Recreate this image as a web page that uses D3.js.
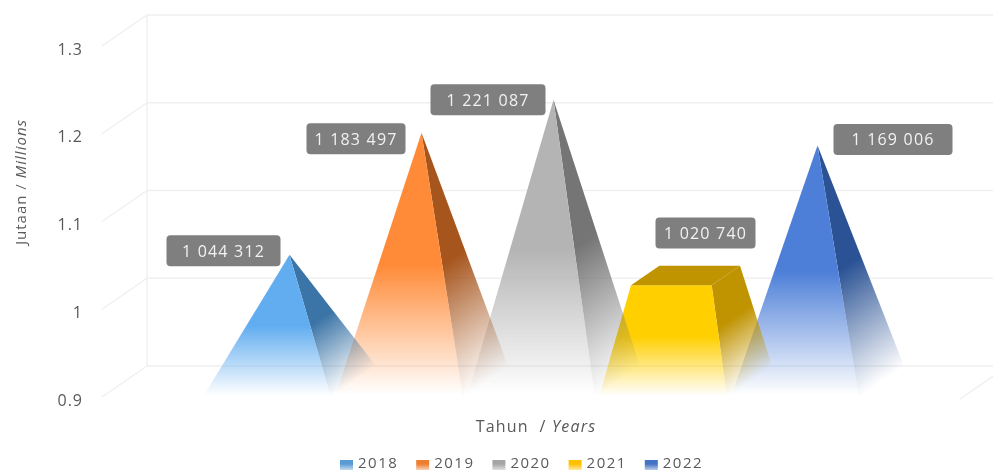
<!DOCTYPE html>
<html><head><meta charset="utf-8">
<script src="https://cdn.jsdelivr.net/npm/d3@7/dist/d3.min.js"></script>
<style>html,body{margin:0;padding:0;background:#fff;overflow:hidden}svg{display:block;font-family:"Open Sans",sans-serif;filter:blur(0.4px)}</style>
</head><body><div id="c"></div>
<script>
const years = ["2018","2019","2020","2021","2022"];
const values = [1044312,1183497,1221087,1020740,1169006];
const valueLabels = ["1 044 312","1 183 497","1 221 087","1 020 740","1 169 006"];
const topRatios = [0,0,0,0.63,0];
const yTicks = [0.9,1,1.1,1.2,1.3];
const faceColors = ["#62adf0","#ff8b38","#b4b4b4","#ffcf00","#4d7fd8"];
const sideColors = ["#3b74a6","#a6551d","#757575","#c09300","#2a5294"];
const legendColors = ["#5b9bd5","#ed7d31","#a5a5a5","#ffc000","#4472c4"];

const W=993,H=473, dx=45, dy=31;
const x=d3.scaleBand().domain(years).range([102,960]).paddingInner(0.03).paddingOuter(0.765);
const y=d3.scaleLinear().domain([0.9,1.3]).range([397,46]);
const svg=d3.select("#c").append("svg").attr("width",W).attr("height",H).attr("viewBox",[0,0,W,H]);
const defs=svg.append("defs");
const grid=svg.append("g").attr("stroke","#f0f0f0").attr("stroke-width",1.5).attr("fill","none");
yTicks.forEach(t=>{
  grid.append("path").attr("d",`M${102},${y(t)}L${102+dx},${y(t)-dy}L${W+2},${y(t)-dy}`);
});
grid.append("line").attr("x1",102+dx).attr("x2",102+dx).attr("y1",y(1.3)-dy).attr("y2",y(0.9)-dy);
grid.append("line").attr("x1",960).attr("x2",960+dx).attr("y1",y(0.9)+2).attr("y2",y(0.9)+2-dy);

function grad(id,color,x1,y1,x2,y2,end){
  const g=defs.append("linearGradient").attr("id",id).attr("gradientUnits","userSpaceOnUse")
    .attr("x1",x1).attr("x2",x2).attr("y1",y1).attr("y2",y2);
  g.append("stop").attr("offset",0).attr("stop-color",color);
  g.append("stop").attr("offset",0.5).attr("stop-color",color);
  g.append("stop").attr("offset",end).attr("stop-color",color).attr("stop-opacity",0);
}
const P=a=>"M"+a.map(p=>p.join(",")).join("L")+"Z";
const order=d3.range(years.length).reverse();
const marks=svg.append("g");
order.forEach(i=>{
  const v=values[i]/1e6, w=x.bandwidth(), xl=x(years[i]), r=topRatios[i];
  const b=y(0.9), cx=xl+w/2+dx/2;
  const topC=y(v)-dy/2;
  const pt=(sx,sz)=>[cx+r*(sx*w/2+sz*dx/2), topC+r*(-sz*dy/2)];
  const fl=[xl,b], fr=[xl+w,b], br=[xl+w+dx,b-dy];
  const tfl=pt(-1,-1), tfr=pt(1,-1), tbr=pt(1,1), tbl=pt(-1,1);
  grad("f"+i,faceColors[i],0,topC,0,b,0.99);
  // side face fades toward its own bottom edge (front-right to back-right)
  const ex=br[0]-fr[0], ey=br[1]-fr[1], t=((cx-fr[0])*ex+(topC-fr[1])*ey)/(ex*ex+ey*ey);
  grad("s"+i,sideColors[i],cx,topC,fr[0]+t*ex,fr[1]+t*ey,1);
  marks.append("path").attr("d",P([tfr,fr,br,tbr])).attr("fill",`url(#s${i})`);
  marks.append("path").attr("d",P([tfl,tfr,fr,fl])).attr("fill",`url(#f${i})`);
  if(r>0) marks.append("path").attr("d",P([tfl,tfr,tbr,tbl])).attr("fill",sideColors[i]);
});
// value labels
const labelOffsets=[[-66,-4],[-65.5,6],[-65.5,0],[20,-42.5],[75.5,-6]];
const labelWidths=[114,99,115,100,119];
const labels=svg.append("g");
values.forEach((val,i)=>{
  const v=val/1e6, cx=x(years[i])+x.bandwidth()/2+dx/2, ay=y(v)-dy/2;
  const lx=cx+labelOffsets[i][0], ly=ay+labelOffsets[i][1];
  labels.append("rect").attr("x",lx-labelWidths[i]/2).attr("y",ly-15.5).attr("width",labelWidths[i]).attr("height",31)
    .attr("rx",4).attr("fill","#7f7f7f");
  labels.append("text").attr("x",lx).attr("y",ly+6).attr("text-anchor","middle")
    .attr("font-size",16).attr("letter-spacing",1.2).attr("fill","#f2f2f2").text(valueLabels[i]);
});
// y axis
const ax=svg.append("g").attr("transform","translate(83,3)")
  .call(d3.axisLeft(y).tickValues(yTicks).tickSize(0).tickPadding(0).tickFormat(d=>String(d)));
ax.select(".domain").remove();
ax.selectAll("text").attr("font-size",16).attr("letter-spacing",1).attr("font-family",'"Open Sans",sans-serif').attr("fill","#595959");
// titles
const yt=svg.append("text").attr("transform","translate(26,182) rotate(-90)").attr("text-anchor","middle")
  .attr("font-size",15).attr("letter-spacing",1).attr("fill","#595959");
yt.append("tspan").text("Jutaan / ");
yt.append("tspan").attr("font-style","italic").text("Millions");
const xt=svg.append("text").attr("x",536).attr("y",432).attr("text-anchor","middle")
  .attr("font-size",16).attr("letter-spacing",1.2).attr("fill","#595959");
xt.append("tspan").text("Tahun\u00a0 / ");
xt.append("tspan").attr("font-style","italic").text("Years");
// legend
const lgd=svg.append("g");
years.forEach((yr,i)=>{
  const gr=defs.append("linearGradient").attr("id","l"+i).attr("x1",0).attr("x2",0).attr("y1",0).attr("y2",1);
  gr.append("stop").attr("offset",0.4).attr("stop-color",legendColors[i]);
  gr.append("stop").attr("offset",1).attr("stop-color",legendColors[i]).attr("stop-opacity",0.35);
  const sx=340+i*76.2;
  lgd.append("rect").attr("x",sx).attr("y",460).attr("width",13).attr("height",10).attr("fill",`url(#l${i})`);
  lgd.append("text").attr("x",sx+18).attr("y",468.4).attr("font-size",15).attr("letter-spacing",1.5).attr("fill","#595959").text(yr);
});
</script></body></html>
